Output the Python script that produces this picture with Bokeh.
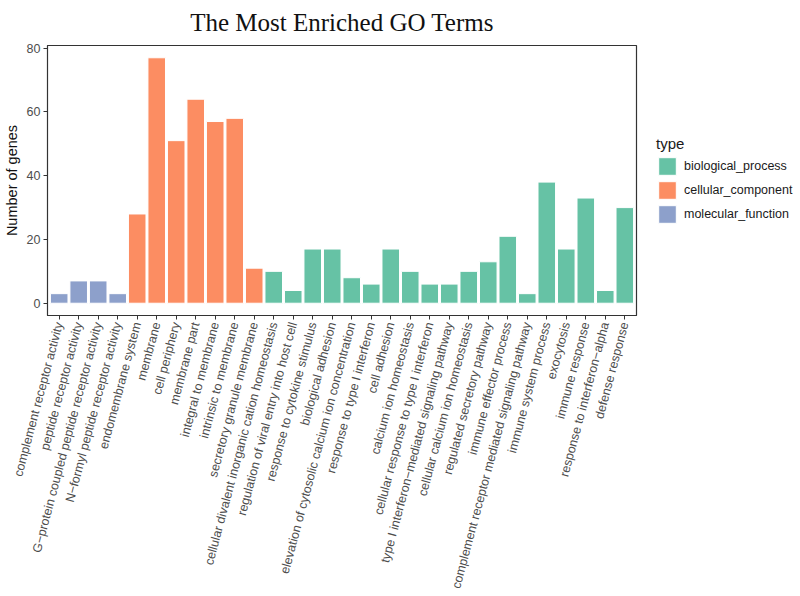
import math
from bokeh.plotting import figure
from bokeh.models import ColumnDataSource, Legend, LegendItem, FactorRange, FixedTicker
from bokeh.embed import file_html
from bokeh.resources import INLINE

terms_mf = ["complement receptor activity", "peptide receptor activity",
            "G\u2212protein coupled peptide receptor activity", "N\u2212formyl peptide receptor activity"]
counts_mf = [3, 7, 7, 3]

terms_cc = ["endomembrane system", "membrane", "cell periphery", "membrane part",
            "integral to membrane", "intrinsic to membrane", "secretory granule membrane"]
counts_cc = [28, 77, 51, 64, 57, 58, 11]

terms_bp = ["cellular divalent inorganic cation homeostasis", "regulation of viral entry into host cell",
            "response to cytokine stimulus", "biological adhesion",
            "elevation of cytosolic calcium ion concentration", "response to type I interferon",
            "cell adhesion", "calcium ion homeostasis", "cellular response to type I interferon",
            "type I interferon\u2212mediated signaling pathway", "cellular calcium ion homeostasis",
            "regulated secretory pathway", "immune effector process",
            "complement receptor mediated signaling pathway", "immune system process", "exocytosis",
            "immune response", "response to interferon\u2212alpha", "defense response"]
counts_bp = [10, 4, 17, 17, 8, 6, 17, 10, 6, 6, 10, 13, 21, 3, 38, 17, 33, 4, 30]

type_names = ["biological_process", "cellular_component", "molecular_function"]
type_colors = ["#66C2A5", "#FC8D62", "#8DA0CB"]
y_ticks = [0, 20, 40, 60, 80]

categories = terms_mf + terms_cc + terms_bp

p = figure(x_range=FactorRange(factors=categories, range_padding=0.1, range_padding_units="absolute"),
           y_range=(-3.85, 80.85), frame_width=589, frame_height=270,
           output_backend="svg", toolbar_location=None,
           title="The Most Enriched GO Terms",
           min_border_left=4, min_border_right=4, min_border_top=42, min_border_bottom=4)

groups = {"biological_process": (terms_bp, counts_bp),
          "cellular_component": (terms_cc, counts_cc),
          "molecular_function": (terms_mf, counts_mf)}

items = []
for name, col in zip(type_names, type_colors):
    t, c = groups[name]
    src = ColumnDataSource(dict(term=t, count=c))
    r = p.vbar(x="term", top="count", bottom=0, width=0.9, source=src,
               fill_color=col, line_color="white", line_width=1)
    items.append(LegendItem(label=name, renderers=[r]))

legend = Legend(items=items, title="type", location="center_left",
                glyph_width=22, glyph_height=22, spacing=2,
                label_text_font="Liberation Sans", label_text_font_size="12.5px",
                label_text_color="#1a1a1a",
                title_text_font="Liberation Sans", title_text_font_size="15px",
                title_text_font_style="normal", title_text_color="#1a1a1a",
                title_standoff=3,
                border_line_color=None, background_fill_alpha=0,
                padding=4, margin=20, label_standoff=6)
p.add_layout(legend, "right")

p.title.text_font = "Liberation Serif"
p.title.text_font_size = "25px"
p.title.text_font_style = "normal"
p.title.align = "center"
p.title.vertical_align = "top"
p.title.text_color = "#111111"
p.title.standoff = 16

p.xgrid.grid_line_color = None
p.ygrid.grid_line_color = None
p.outline_line_color = "#333333"
p.outline_line_width = 1.2
p.background_fill_color = "white"

p.yaxis.ticker = FixedTicker(ticks=y_ticks)
p.yaxis.axis_label = "Number of genes"
p.yaxis.axis_label_text_font = "Liberation Sans"
p.yaxis.axis_label_text_font_size = "14.5px"
p.yaxis.axis_label_text_font_style = "normal"
p.yaxis.axis_label_text_color = "#111111"
p.yaxis.axis_label_standoff = 4

for ax in (p.xaxis, p.yaxis):
    ax.axis_line_color = "#333333"
    ax.major_tick_line_color = "#333333"
    ax.major_tick_out = 4
    ax.major_tick_in = 0
    ax.minor_tick_line_color = None
    ax.major_label_text_font = "Liberation Sans"
    ax.major_label_text_font_size = "12.5px"
    ax.major_label_text_color = "#4D4D4D"
    ax.major_label_standoff = 3

p.xaxis.major_label_orientation = 75 * math.pi / 180

open("out.html", "w").write(file_html(p, INLINE))
